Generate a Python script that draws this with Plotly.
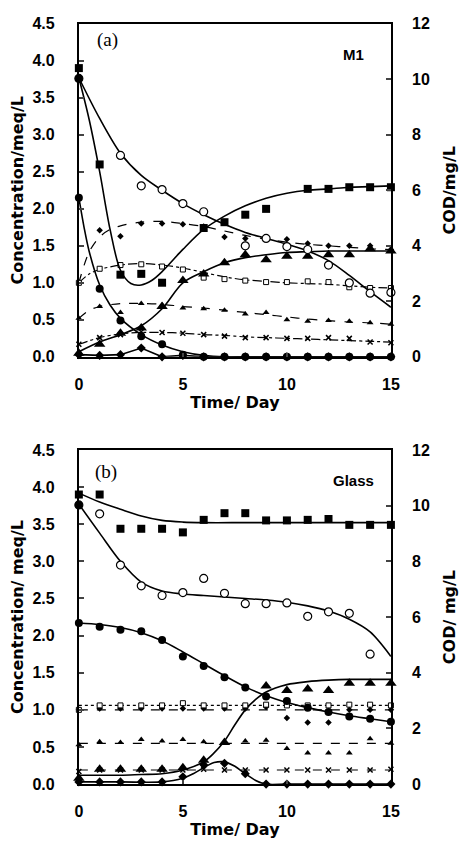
import plotly.graph_objects as go

# ---------------- (a) M1 ----------------
t_all = list(range(16))

# large filled squares: COD, mg/L (right axis)
sq_a_t = [0, 1, 2, 3, 4, 6, 7, 8, 9, 11, 12, 13, 14, 15]
sq_a_v = [10.40, 6.93, 2.96, 2.99, 2.67, 4.64, 4.85, 5.12, 5.33, 6.05, 6.05, 6.11, 6.11, 6.11]
sq_a_fit_t = [0, 0.5, 1, 1.5, 2, 2.5, 3, 3.5, 4, 5, 6, 7, 8, 9, 10, 11, 12, 13, 14, 15]
sq_a_fit_v = [10.05, 8.53, 6.67, 4.59, 3.12, 2.64, 2.59, 2.75, 3.07, 3.87, 4.59, 5.07, 5.44, 5.71, 5.89, 6.00, 6.05, 6.11, 6.13, 6.16]

# open circles (the day-0 point is drawn filled)
oc_a_t = [0, 2, 3, 4, 5, 6, 8, 9, 10, 11, 12, 13, 14, 15]
oc_a_v = [3.76, 2.72, 2.31, 2.26, 2.07, 1.96, 1.50, 1.60, 1.49, 1.45, 1.24, 1.00, 0.86, 0.87]
oc_a_fit_t = [0, 1, 2, 3, 4, 5, 6, 7, 8, 9, 10, 11, 12, 13, 14, 15]
oc_a_fit_v = [3.77, 3.22, 2.75, 2.45, 2.25, 2.07, 1.92, 1.79, 1.68, 1.60, 1.52, 1.43, 1.30, 1.10, 0.88, 0.67]

# filled circles
fc_a_v = [2.15, 0.92, 0.49, 0.28, 0.17, 0.03, 0.0, 0.0, 0.0, 0.0, 0.0, 0.0, 0.0, 0.0, 0.0, 0.0]
fc_a_fit_t = [0, 0.25, 0.5, 1, 1.5, 2, 3, 4, 5, 6, 7, 8, 10, 12, 15]
fc_a_fit_v = [2.15, 1.75, 1.42, 0.97, 0.70, 0.52, 0.30, 0.16, 0.07, 0.02, 0.0, 0.0, 0.0, 0.0, 0.0]

# large filled triangles
tr_a_v = [0.05, 0.17, 0.32, 0.39, 0.68, 1.03, 1.12, 1.27, 1.38, 1.31, 1.36, 1.36, 1.38, 1.38, 1.46, 1.43]
tr_a_fit_t = [0, 1, 2, 3, 4, 5, 6, 7, 8, 9, 10, 11, 12, 13, 14, 15]
tr_a_fit_v = [0.07, 0.20, 0.30, 0.42, 0.65, 1.00, 1.15, 1.27, 1.34, 1.38, 1.41, 1.42, 1.43, 1.43, 1.43, 1.43]

# small diamonds on the bottom (solid)
bd_a_v = [0.03, 0.02, 0.03, 0.12, 0.0, 0.02, 0.0, 0.0, 0.0, 0.0, 0.0, 0.0, 0.0, 0.0, 0.0, 0.0]

# small diamonds (dashed)
d1_a_t = [1, 2, 3, 4, 5, 6, 7, 8, 9, 10, 11, 12, 13, 14, 15]
d1_a_v = [1.71, 1.63, 1.80, 1.80, 1.79, 1.76, 1.62, 1.60, 1.60, 1.59, 1.53, 1.50, 1.50, 1.50, 1.45]
d1_a_fit_t = [0, 0.5, 1, 1.5, 2, 3, 4, 5, 6, 7, 8, 9, 10, 11, 12, 13, 14, 15]
d1_a_fit_v = [1.00, 1.42, 1.62, 1.72, 1.77, 1.82, 1.83, 1.80, 1.76, 1.70, 1.64, 1.59, 1.55, 1.52, 1.50, 1.48, 1.46, 1.45]

# small open squares (dash-dot)
d2_a_v = [1.00, 1.19, 1.24, 1.25, 1.22, 1.18, 1.07, 1.05, 1.03, 1.01, 1.01, 1.02, 1.01, 0.94, 0.93, 0.93]
d2_a_fit_t = [0, 0.5, 1, 2, 3, 4, 5, 6, 7, 8, 9, 10, 11, 12, 13, 14, 15]
d2_a_fit_v = [1.00, 1.12, 1.18, 1.24, 1.26, 1.24, 1.20, 1.14, 1.08, 1.04, 1.02, 1.00, 0.99, 0.98, 0.96, 0.94, 0.93]

# small triangles (dashed)
d3_a_v = [0.52, 0.68, 0.60, 0.72, 0.70, 0.66, 0.65, 0.63, 0.58, 0.60, 0.50, 0.48, 0.49, 0.48, 0.46, 0.44]
d3_a_fit_t = [0, 0.5, 1, 2, 3, 4, 5, 6, 7, 8, 9, 10, 11, 12, 13, 14, 15]
d3_a_fit_v = [0.52, 0.63, 0.68, 0.72, 0.72, 0.71, 0.68, 0.66, 0.63, 0.60, 0.57, 0.54, 0.51, 0.49, 0.47, 0.46, 0.44]

# small crosses (dashed)
d4_a_v = [0.17, 0.26, 0.30, 0.34, 0.33, 0.32, 0.30, 0.28, 0.26, 0.26, 0.25, 0.25, 0.26, 0.25, 0.20, 0.19]
d4_a_fit_t = [0, 1, 2, 3, 4, 5, 6, 7, 8, 9, 10, 11, 12, 13, 14, 15]
d4_a_fit_v = [0.17, 0.26, 0.31, 0.33, 0.33, 0.32, 0.30, 0.29, 0.27, 0.26, 0.25, 0.24, 0.23, 0.22, 0.21, 0.20]

# ---------------- (b) Glass ----------------
# large filled squares: COD, mg/L (right axis)
sq_b_v = [10.40, 10.40, 9.17, 9.17, 9.17, 9.04, 9.49, 9.73, 9.73, 9.47, 9.47, 9.49, 9.52, 9.31, 9.31, 9.31]
sq_b_fit_t = [0, 1, 2, 3, 4, 5, 6, 8, 10, 12, 15]
sq_b_fit_v = [10.45, 10.13, 9.87, 9.63, 9.47, 9.41, 9.39, 9.39, 9.39, 9.39, 9.39]

oc_b_t = [0, 1, 2, 3, 4, 5, 6, 7, 8, 9, 10, 11, 12, 13, 14]
oc_b_v = [3.76, 3.64, 2.95, 2.67, 2.54, 2.58, 2.77, 2.57, 2.43, 2.43, 2.44, 2.26, 2.32, 2.30, 1.75]
oc_b_fit_t = [0, 1, 2, 3, 4, 5, 6, 7, 8, 9, 10, 11, 12, 13, 14, 15]
oc_b_fit_v = [3.77, 3.38, 3.00, 2.72, 2.60, 2.56, 2.54, 2.52, 2.50, 2.48, 2.45, 2.40, 2.33, 2.22, 2.05, 1.72]

fc_b_v = [2.17, 2.12, 2.08, 2.06, 1.94, 1.72, 1.59, 1.44, 1.30, 1.18, 1.12, 1.03, 0.97, 0.91, 0.88, 0.84]
fc_b_fit_v = [2.17, 2.15, 2.11, 2.04, 1.93, 1.78, 1.62, 1.46, 1.31, 1.19, 1.10, 1.03, 0.97, 0.92, 0.88, 0.84]

tr_b_t = [0, 1, 2, 3, 4, 5, 6, 7, 9, 10, 11, 12, 13, 14, 15]
tr_b_v = [0.08, 0.20, 0.20, 0.20, 0.20, 0.22, 0.32, 0.56, 1.32, 1.26, 1.28, 1.26, 1.36, 1.36, 1.36]
tr_b_fit_t = [0, 1, 2, 3, 4, 5, 6, 6.5, 7, 7.5, 8, 8.5, 9, 10, 11, 12, 13, 15]
tr_b_fit_v = [0.12, 0.12, 0.12, 0.13, 0.14, 0.19, 0.30, 0.42, 0.58, 0.80, 1.00, 1.14, 1.24, 1.34, 1.38, 1.40, 1.41, 1.41]

bd_b_v = [0.03, 0.03, 0.03, 0.03, 0.03, 0.10, 0.26, 0.28, 0.14, 0.0, 0.0, 0.0, 0.0, 0.0, 0.0, 0.0]
bd_b_fit_t = [0, 2, 4, 5, 5.5, 6, 6.5, 7, 7.5, 8, 8.5, 9, 10, 12, 15]
bd_b_fit_v = [0.03, 0.03, 0.03, 0.08, 0.14, 0.22, 0.29, 0.30, 0.24, 0.14, 0.05, 0.0, 0.0, 0.0, 0.0]

d1_b_v = [1.00, 1.02, 1.02, 1.02, 1.02, 1.02, 1.02, 1.02, 1.02, 1.04, 0.89, 0.83, 0.83, 1.00, 1.00, 1.00]
d1_b_fit = [1.00, 1.00]
d2_b_v = [1.00, 1.06, 1.06, 1.06, 1.06, 1.09, 1.06, 1.06, 1.06, 1.07, 1.06, 1.06, 1.06, 1.07, 1.07, 1.06]
d2_b_fit = [1.06, 1.06]
d3_b_v = [0.53, 0.57, 0.56, 0.60, 0.58, 0.60, 0.57, 0.57, 0.58, 0.59, 0.48, 0.42, 0.42, 0.42, 0.61, 0.55]
d3_b_fit = [0.55, 0.55]
d4_b_v = [0.17, 0.19, 0.19, 0.19, 0.19, 0.19, 0.20, 0.19, 0.19, 0.19, 0.19, 0.19, 0.19, 0.19, 0.19, 0.20]
d4_b_fit = [0.19, 0.19]
flat_t = [0, 15]

W, H = 467, 848
BLACK = "#000000"
TICK_FONT = dict(family="Liberation Sans, Arial", size=16, color=BLACK, weight="bold")
TITLE_FONT = dict(family="DejaVu Sans", size=16, color=BLACK, weight="bold")

fig = go.Figure()


def curve(x, y, xa, ya, dash="solid", width=1.6, shape="spline"):
    fig.add_trace(go.Scatter(x=x, y=y, xaxis=xa, yaxis=ya, mode="lines",
                             line=dict(color=BLACK, width=width, dash=dash, shape=shape, smoothing=0.9),
                             hoverinfo="skip", showlegend=False, cliponaxis=False))


def marks(x, y, xa, ya, symbol, size, fill=BLACK, lw=0):
    fig.add_trace(go.Scatter(x=x, y=y, xaxis=xa, yaxis=ya, mode="markers",
                             marker=dict(symbol=symbol, size=size, color=fill,
                                         line=dict(color=BLACK, width=lw)),
                             showlegend=False, cliponaxis=False))


def open_fill(ts):
    # the starting point is shown solid, the rest hollow
    return [BLACK if t == 0 else "white" for t in ts]


# panel (a)
curve(d1_a_fit_t, d1_a_fit_v, "x", "y", dash="dash", width=1.2)
curve(d2_a_fit_t, d2_a_fit_v, "x", "y", dash="dashdot", width=1.2)
curve(d3_a_fit_t, d3_a_fit_v, "x", "y", dash="dash", width=1.2)
curve(d4_a_fit_t, d4_a_fit_v, "x", "y", dash="dashdot", width=1.2)
curve(sq_a_fit_t, sq_a_fit_v, "x", "y2")
curve(oc_a_fit_t, oc_a_fit_v, "x", "y")
curve(fc_a_fit_t, fc_a_fit_v, "x", "y")
curve(tr_a_fit_t, tr_a_fit_v, "x", "y")
curve(t_all, bd_a_v, "x", "y", shape="linear")
marks(d1_a_t, d1_a_v, "x", "y", "diamond", 5)
marks(t_all, d2_a_v, "x", "y", "square", 5, fill="white", lw=1)
marks(t_all, d3_a_v, "x", "y", "triangle-up", 6)
marks(t_all, d4_a_v, "x", "y", "x-thin", 5, lw=1.5)
marks(t_all, bd_a_v, "x", "y", "diamond", 7)
marks(t_all, fc_a_v, "x", "y", "circle", 8)
marks(t_all, tr_a_v, "x", "y", "triangle-up", 10)
marks(oc_a_t, oc_a_v, "x", "y", "circle", 8, fill=open_fill(oc_a_t), lw=1.2)
marks(sq_a_t, sq_a_v, "x", "y2", "square", 8)

# panel (b)
curve(flat_t, d1_b_fit, "x2", "y3", dash="dash", width=1.2)
curve(flat_t, d2_b_fit, "x2", "y3", dash="dot", width=1.2)
curve(flat_t, d3_b_fit, "x2", "y3", dash="dash", width=1.2)
curve(flat_t, d4_b_fit, "x2", "y3", dash="dash", width=1.2)
curve(sq_b_fit_t, sq_b_fit_v, "x2", "y4")
curve(oc_b_fit_t, oc_b_fit_v, "x2", "y3")
curve(t_all, fc_b_fit_v, "x2", "y3")
curve(tr_b_fit_t, tr_b_fit_v, "x2", "y3")
curve(bd_b_fit_t, bd_b_fit_v, "x2", "y3")
marks(t_all, d1_b_v, "x2", "y3", "diamond", 5)
marks(t_all, d2_b_v, "x2", "y3", "square", 5, fill="white", lw=1)
marks(t_all, d3_b_v, "x2", "y3", "triangle-up", 6)
marks(t_all, d4_b_v, "x2", "y3", "x-thin", 5, lw=1.5)
marks(t_all, bd_b_v, "x2", "y3", "diamond", 7)
marks(t_all, fc_b_v, "x2", "y3", "circle", 8)
marks(tr_b_t, tr_b_v, "x2", "y3", "triangle-up", 10)
marks(oc_b_t, oc_b_v, "x2", "y3", "circle", 8, fill=open_fill(oc_b_t), lw=1.2)
marks(t_all, sq_b_v, "x2", "y4", "square", 8)

xdom = [77 / W, 398 / W]
ya_dom = [1 - 356 / H, 1 - 16 / H]
yb_dom = [1 - 792 / H, 1 - 451 / H]

common_x = dict(range=[0, 15], tickvals=[0, 5, 10, 15], ticks="inside", ticklen=4, tickwidth=1.5,
                showline=True, linewidth=2, linecolor=BLACK, mirror=True, showgrid=False,
                zeroline=False, tickfont=TICK_FONT, ticklabelstandoff=12, domain=xdom)
common_yl = dict(range=[0, 4.5], dtick=0.5, tickformat=".1f", ticks="inside", ticklen=5, tickwidth=1.5,
                 showline=True, linewidth=2, linecolor=BLACK, showgrid=False, zeroline=False,
                 tickfont=TICK_FONT, ticklabelstandoff=19)
common_yr = dict(range=[0, 12], dtick=2, ticks="inside", ticklen=5, tickwidth=1.5, side="right",
                 showline=True, linewidth=2, linecolor=BLACK, showgrid=False, zeroline=False,
                 tickfont=TICK_FONT, ticklabelstandoff=16)

fig.update_layout(
    width=W, height=H, margin=dict(l=0, r=0, t=0, b=0),
    paper_bgcolor="white", plot_bgcolor="white", showlegend=False,
    xaxis=dict(common_x, anchor="y", title=dict(text="Time/ Day", font=TITLE_FONT, standoff=0)),
    yaxis=dict(common_yl, domain=ya_dom, anchor="x",
               title=dict(text="Concentration/meq/L", font=TITLE_FONT, standoff=5)),
    yaxis2=dict(common_yr, overlaying="y", anchor="x",
                title=dict(text="COD/mg/L", font=TITLE_FONT, standoff=15)),
    xaxis2=dict(common_x, anchor="y3", title=dict(text="Time/ Day", font=TITLE_FONT, standoff=0)),
    yaxis3=dict(common_yl, domain=yb_dom, anchor="x2",
                title=dict(text="Concentration/ meq/L", font=TITLE_FONT, standoff=5)),
    yaxis4=dict(common_yr, overlaying="y3", anchor="x2",
                title=dict(text="COD/ mg/L", font=TITLE_FONT, standoff=15)),
)

SERIF = dict(family="Liberation Serif, Times New Roman", size=19, color=BLACK)
LABEL = dict(family="Liberation Sans, Arial", size=15, color=BLACK, weight="bold")
for text, x, y, font in [("(a)", 106, 33, SERIF), ("M1", 360, 47, LABEL),
                         ("(b)", 105, 473, SERIF), ("Glass", 360, 482, LABEL)]:
    fig.add_annotation(text=text, x=x / W, y=1 - y / H, xref="paper", yref="paper",
                       showarrow=False, font=font, xanchor="center", yanchor="middle")

fig.write_html("out.html")
